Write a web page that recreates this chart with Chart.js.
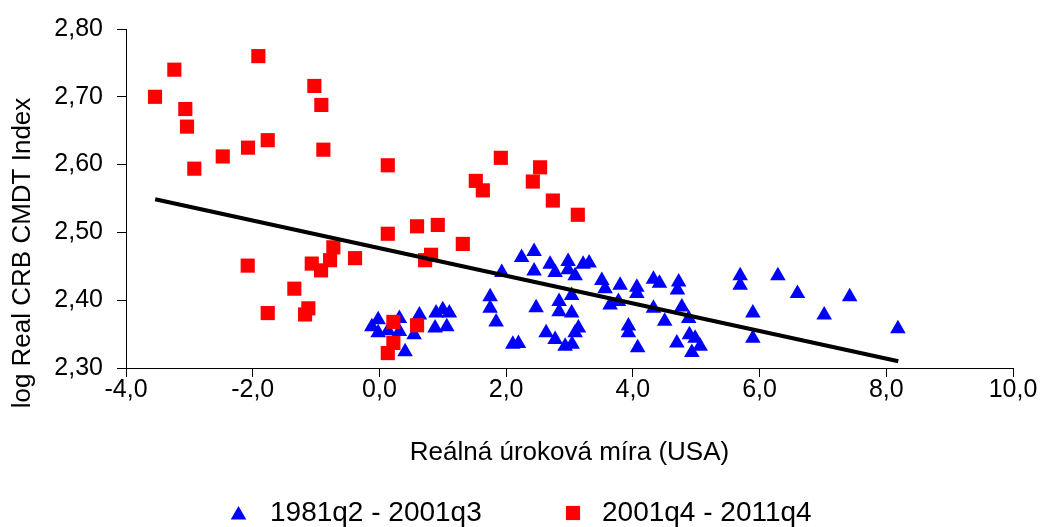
<!DOCTYPE html>
<html><head><meta charset="utf-8">
<script src="https://cdn.jsdelivr.net/npm/chart.js@4.4.1/dist/chart.umd.min.js"></script>
<style>html,body{margin:0;padding:0;background:#fff;}canvas{display:block;}</style>
</head><body>
<canvas id="c" width="1040" height="527"></canvas>
<script>
const xTickLabels = ['-4,0','-2,0','0,0','2,0','4,0','6,0','8,0','10,0'];
const yTickLabels = ['2,30','2,40','2,50','2,60','2,70','2,80'];
const seriesNames = ['1981q2 - 2001q3', '2001q4 - 2011q4'];
const xTitle = 'Reálná úroková míra (USA)';
const yTitle = 'log Real CRB CMDT Index';

const blueX = [-0.12,-0.02,-0.02,0.136,0.315,0.315,0.405,0.631,0.547,0.894,1.0,1.104,0.878,1.063,
  1.747,1.747,1.842,1.931,2.105,2.194,2.244,2.441,2.441,2.473,2.631,2.694,2.773,2.773,2.836,2.836,2.978,2.978,3.034,3.034,3.089,3.141,3.089,3.041,2.931,3.215,3.31,
  3.51,3.562,3.641,3.799,3.772,3.93,3.93,4.063,4.063,4.076,4.325,4.42,4.325,4.502,4.723,4.704,4.773,4.881,4.694,4.893,4.983,5.062,4.931,
  5.694,5.694,5.894,5.894,6.289,6.598,7.02,7.422,8.183];
const blueY = [2.361,2.371,2.352,2.355,2.373,2.354,2.324,2.378,2.349,2.381,2.386,2.381,2.359,2.361,
  2.405,2.388,2.368,2.441,2.335,2.336,2.463,2.472,2.443,2.389,2.352,2.453,2.441,2.342,2.398,2.383,2.457,2.445,2.407,2.381,2.436,2.359,2.352,2.335,2.332,2.453,2.455,
  2.429,2.417,2.393,2.422,2.398,2.362,2.352,2.419,2.410,2.330,2.431,2.425,2.388,2.369,2.427,2.415,2.390,2.373,2.337,2.349,2.344,2.332,2.323,
  2.436,2.422,2.381,2.344,2.436,2.410,2.378,2.405,2.358];

const redX = [-3.542,-3.237,-3.064,-3.037,-2.922,-2.473,-2.074,-1.911,-1.763,-1.027,-0.917,-0.885,0.132,
  -2.079,-1.763,-1.343,-1.122,-1.174,-1.068,-0.921,-0.779,-0.727,-0.385,0.132,0.594,0.220,0.220,0.132,0.594,
  1.916,2.536,1.521,1.632,2.421,2.737,3.131,0.921,1.316,0.815,0.721];
const redY = [2.700,2.740,2.682,2.656,2.594,2.612,2.625,2.760,2.636,2.716,2.688,2.622,2.599,
  2.451,2.381,2.417,2.388,2.379,2.454,2.444,2.459,2.478,2.462,2.498,2.509,2.368,2.337,2.322,2.363,
  2.610,2.596,2.576,2.562,2.575,2.547,2.526,2.511,2.483,2.467,2.459];

const trendX = [-3.54, 8.19];
const trendY = [2.549, 2.310];

const FONT = "'Liberation Sans', Arial, sans-serif";
const toPts = (xs, ys) => xs.map((x, i) => ({x: x, y: ys[i]}));

function drawMarker(ctx, style, x, y, r, color) {
  ctx.fillStyle = color;
  ctx.beginPath();
  if (style === 'triangle') {
    let rad = 0;
    ctx.moveTo(x + Math.sin(rad) * r, y - Math.cos(rad) * r);
    rad += 2 * Math.PI / 3;
    ctx.lineTo(x + Math.sin(rad) * r, y - Math.cos(rad) * r);
    rad += 2 * Math.PI / 3;
    ctx.lineTo(x + Math.sin(rad) * r, y - Math.cos(rad) * r);
    ctx.closePath();
  } else {
    const s = r * Math.SQRT1_2;
    ctx.rect(x - s, y - s, 2 * s, 2 * s);
  }
  ctx.fill();
}

const extras = {
  id: 'extras',
  afterDraw(chart) {
    const ctx = chart.ctx;
    ctx.save();
    ctx.fillStyle = '#000';
    ctx.font = '26px ' + FONT;
    ctx.textAlign = 'center';
    ctx.textBaseline = 'middle';
    ctx.translate(23, 253);
    ctx.rotate(-Math.PI / 2);
    ctx.fillText(yTitle, 0, 0);
    ctx.restore();

    // legend
    ctx.save();
    const ly = 513;
    const items = [
      {name: seriesNames[0], style: 'triangle', color: '#0000FF', mx: 238.5, tx: 270, r: 9},
      {name: seriesNames[1], style: 'rect', color: '#FF0000', mx: 573, tx: 602, r: 10}
    ];
    ctx.font = '28px ' + FONT;
    ctx.textAlign = 'left';
    ctx.textBaseline = 'middle';
    items.forEach(it => {
      drawMarker(ctx, it.style, it.mx, it.style === 'triangle' ? ly + 2 : ly, it.r, it.color);
      ctx.fillStyle = '#000';
      ctx.fillText(it.name, it.tx, ly);
    });
    ctx.restore();
  }
};

new Chart(document.getElementById('c'), {
  type: 'scatter',
  data: {
    datasets: [
      {label: 'trend', data: toPts(trendX, trendY), showLine: true, borderColor: '#000000',
       borderWidth: 4, pointRadius: 0, pointHoverRadius: 0, fill: false, order: 0},
      {label: seriesNames[1], data: toPts(redX, redY), pointStyle: 'rect', pointRadius: 10,
       backgroundColor: '#FF0000', borderColor: '#FF0000', borderWidth: 0, order: 1},
      {label: seriesNames[0], data: toPts(blueX, blueY), pointStyle: 'triangle', pointRadius: 9,
       backgroundColor: '#0000FF', borderColor: '#0000FF', borderWidth: 0, order: 2}
    ]
  },
  options: {
    responsive: false,
    animation: false,
    devicePixelRatio: 1,
    layout: {padding: {top: 23, right: 27, bottom: 59, left: 0}},
    plugins: {legend: {display: false}, tooltip: {enabled: false}, title: {display: false}},
    scales: {
      x: {
        type: 'linear', min: -4, max: 10,
        afterFit(scale) { scale.height = 100; },
        ticks: {stepSize: 2, color: '#000', font: {family: FONT, size: 25}, padding: -2,
                maxRotation: 0, autoSkip: false,
                callback: (v, i) => xTickLabels[i]},
        grid: {drawOnChartArea: false, drawTicks: true, tickLength: 9, color: '#000'},
        border: {display: true, color: '#000', width: 1},
        title: {display: true, text: xTitle, color: '#000', font: {family: FONT, size: 26}, padding: {top: 0, bottom: 0}}
      },
      y: {
        type: 'linear', min: 2.3, max: 2.8,
        afterFit(scale) { scale.width = 126; },
        ticks: {stepSize: 0.1, color: '#000', font: {family: FONT, size: 25}, padding: 14,
                callback: (v, i) => yTickLabels[i]},
        grid: {drawOnChartArea: false, drawTicks: true, tickLength: 9, color: '#000'},
        border: {display: true, color: '#000', width: 1}
      }
    }
  },
  plugins: [extras]
});
</script>
</body></html>
